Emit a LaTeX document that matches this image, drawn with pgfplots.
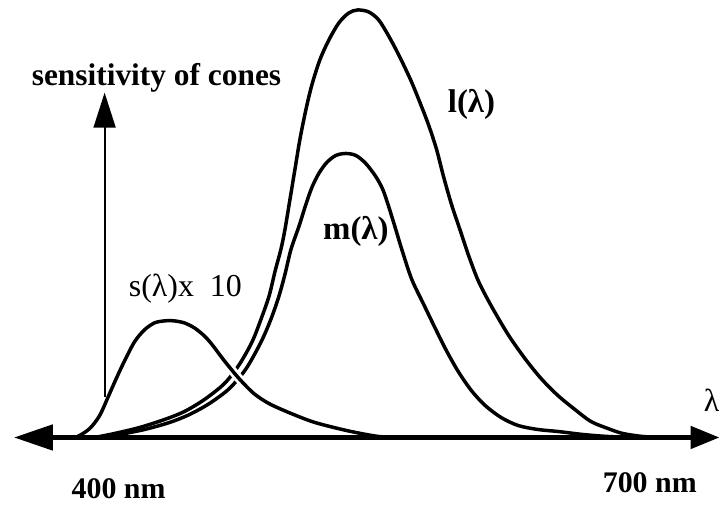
\documentclass[border=0pt]{standalone}
\usepackage{pgfplots}
\pgfplotsset{compat=1.18}
\usepackage{fontspec}
\setmainfont{Liberation Serif}
\usetikzlibrary{arrows.meta}

\begin{document}
\begin{tikzpicture}
\begin{axis}[
    width=722pt, height=508pt,
    scale only axis,
    hide axis,
    clip=false,
    xmin=333.02, xmax=739.4,
    ymin=-69, ymax=439,
]
% cone curves (x in nm, y in arbitrary units)
\addplot[black, line width=3.5pt, smooth] coordinates {
    (386.5,0) (397.7,4) (411.8,10) (425.9,18) (437.1,26) (448.4,38)
    (459.7,54) (468.1,73) (475.4,96) (480.5,119) (485.0,142) (488.4,167)
    (491.7,189) (494.0,209) (496.8,239) (499.6,269) (502.4,299) (505.8,329)
    (509.2,354) (513.7,379) (518.8,399) (524.4,416) (530.0,426) (535.1,429)
    (541.3,427) (546.9,419) (552.5,403) (558.2,384) (564.9,359) (570.0,337)
    (575.0,314) (579.6,289) (583.5,262) (588.0,234) (593.1,207) (597.6,183)
    (603.2,157) (610.5,132) (620.1,103) (629.6,79) (638.7,59) (648.2,42)
    (657.8,28) (666.8,16) (676.4,9) (684.8,4) (696.1,1) (707.3,0)
};
\addplot[black, line width=3.5pt, smooth] coordinates {
    (389.3,0) (400.6,3) (414.6,8) (428.7,15) (440.0,23) (451.2,34)
    (462.5,49) (472.0,69) (480.5,96) (486.1,119) (490.6,142) (494.0,164)
    (497.4,189) (501.9,212) (505.8,234) (509.2,251) (513.1,265) (517.6,276)
    (522.7,283) (528.3,285) (534.0,283) (539.6,275) (545.2,262) (549.2,249)
    (552.5,232) (556.5,209) (559.9,189) (565.5,159) (572.2,134) (579.0,109)
    (585.2,87) (591.9,66) (599.3,47) (607.1,32) (616.1,20) (625.7,12)
    (636.9,8) (648.2,6) (662.3,3) (676.4,1) (693.3,0)
};
% white halo where s crosses l and m
\addplot[white, line width=9pt, smooth] coordinates {
    (457.0,83) (459.7,77) (468.1,59) (474.0,48)
};
\addplot[black, line width=3.5pt, smooth] coordinates {
    (375.2,0) (378.0,2) (383.7,9) (389.3,22) (394.9,44) (398.9,60)
    (403.4,77) (409.0,96) (414.6,108) (420.3,115) (425.9,117) (431.5,117)
    (437.1,115) (442.8,110) (448.4,102) (452.9,93) (459.7,77) (468.1,59)
    (476.5,44) (485.0,34) (496.2,25) (509.2,16) (521.6,10) (534.0,5)
    (546.9,1) (558.2,0)
};
% wavelength axis and sensitivity arrow
\addplot[black, line width=5pt,
    {Triangle[length=39pt,width=25pt]}-{Triangle[length=29pt,width=22pt]}]
    coordinates {(340.9,0) (739.4,0)};
\addplot[black, line width=1.8pt, -{Triangle[length=35pt,width=22pt]}]
    coordinates {(392.1,41) (392.1,346)};

\node[font=\bfseries\fontsize{31.5}{31.5}\selectfont, inner sep=0pt]
    at (axis cs:421.4,361) {sensitivity of cones};
\node[font=\bfseries\fontsize{33}{33}\selectfont, inner sep=0pt]
    at (axis cs:599.3,334) {l(λ)};
\node[font=\bfseries\fontsize{33}{33}\selectfont, inner sep=0pt]
    at (axis cs:534.0,207) {m(λ)};
\node[font=\fontsize{32}{32}\selectfont, inner sep=0pt]
    at (axis cs:437.7,149) {s(λ)x\ \ 10};
\node[font=\bfseries\fontsize{30}{30}\selectfont, inner sep=0pt]
    at (axis cs:400,-51) {400 nm};
\node[font=\bfseries\fontsize{30}{30}\selectfont, inner sep=0pt]
    at (axis cs:700,-45) {700 nm};
\node[font=\fontsize{32}{32}\selectfont, inner sep=0pt, anchor=east]
    at (axis cs:739.4,37) {λ};
\path (rel axis cs:0,0) rectangle (rel axis cs:1,1);
\end{axis}
\end{tikzpicture}
\end{document}
